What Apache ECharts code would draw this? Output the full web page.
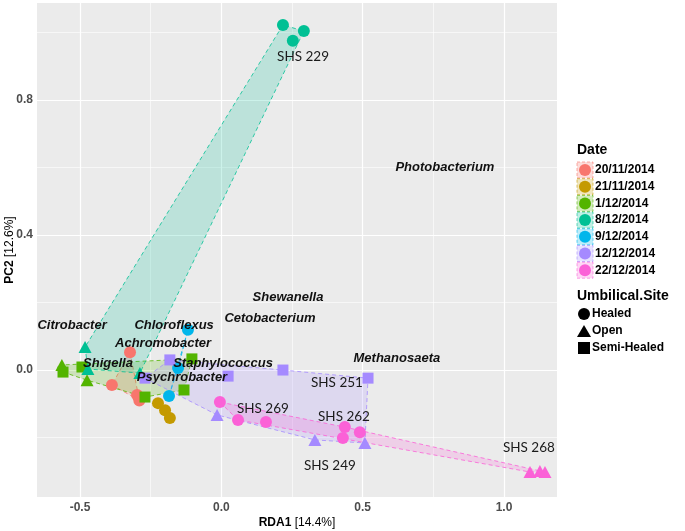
<!DOCTYPE html>
<html>
<head>
<meta charset="utf-8">
<script src="https://cdn.jsdelivr.net/npm/echarts@6.0.0/dist/echarts.min.js"></script>
<style>
  html, body { margin: 0; padding: 0; background: #fff; }
  #main { width: 685px; height: 531px; }
</style>
</head>
<body>
<div id="main"></div>
<script>
// 坐标轴刻度
var xTicks = [-0.5, 0.0, 0.5, 1.0];
var xMinor = [-0.25, 0.25, 0.75];
var yTicks = [0.0, 0.4, 0.8];
var yMinor = [-0.2, 0.2, 0.6, 1.0];

// 日期分组 + 颜色
var dates = ['20/11/2014', '21/11/2014', '1/12/2014', '8/12/2014', '9/12/2014', '12/12/2014', '22/12/2014'];
var colors = ['#F8766D', '#C49A00', '#53B400', '#00C094', '#00B6EB', '#A58AFF', '#FB61D7'];
var sites = ['Healed', 'Open', 'Semi-Healed'];

// 样本点 [RDA1, PC2, Umbilical.Site]
var pts_20_11 = [[-0.323, 0.053, 'Healed'], [-0.387, -0.044, 'Healed'], [-0.298, -0.074, 'Healed'], [-0.290, -0.090, 'Healed']];
var pts_21_11 = [[-0.224, -0.098, 'Healed'], [-0.199, -0.119, 'Healed'], [-0.182, -0.142, 'Healed']];
var pts_1_12 = [[-0.564, 0.015, 'Open'], [-0.560, -0.006, 'Semi-Healed'], [-0.493, 0.009, 'Semi-Healed'], [-0.475, -0.030, 'Open'],
                [-0.270, -0.080, 'Semi-Healed'], [-0.132, -0.059, 'Semi-Healed'], [-0.104, 0.033, 'Semi-Healed']];
var pts_8_12 = [[0.218, 1.022, 'Healed'], [0.292, 1.004, 'Healed'], [0.253, 0.975, 'Healed'],
                [-0.482, 0.068, 'Open'], [-0.472, 0.003, 'Open'], [-0.288, -0.009, 'Open']];
var pts_9_12 = [[-0.118, 0.119, 'Healed'], [-0.153, 0.006, 'Healed'], [-0.185, -0.077, 'Healed']];
var pts_12_12 = [[-0.182, 0.030, 'Semi-Healed'], [-0.270, -0.024, 'Semi-Healed'], [0.024, -0.018, 'Semi-Healed'], [0.218, 0.000, 'Semi-Healed'],
                 [0.519, -0.024, 'Semi-Healed'], [-0.015, -0.133, 'Open'], [0.331, -0.207, 'Open'], [0.508, -0.216, 'Open']];
var pts_22_12 = [[-0.005, -0.095, 'Healed'], [0.059, -0.148, 'Healed'], [0.158, -0.154, 'Healed'], [0.437, -0.169, 'Healed'],
                 [0.430, -0.201, 'Healed'], [0.490, -0.184, 'Healed'], [1.092, -0.302, 'Open'], [1.127, -0.299, 'Open'], [1.145, -0.302, 'Open']];
var sampleSets = [pts_20_11, pts_21_11, pts_1_12, pts_8_12, pts_9_12, pts_12_12, pts_22_12];

// 物种标签
var species = ['Photobacterium', 'Shewanella', 'Cetobacterium', 'Citrobacter', 'Chloroflexus', 'Achromobacter',
               'Shigella', 'Staphylococcus', 'Psychrobacter', 'Methanosaeta'];
var speciesX = [0.791, 0.236, 0.172, -0.528, -0.167, -0.206, -0.401, 0.006, -0.139, 0.621];
var speciesY = [0.601, 0.216, 0.154, 0.133, 0.133, 0.080, 0.021, 0.021, -0.021, 0.033];

// 个体标签
var subjects = ['SHS 229', 'SHS 251', 'SHS 269', 'SHS 262', 'SHS 249', 'SHS 268'];
var subjectX = [0.289, 0.409, 0.147, 0.434, 0.384, 1.088];
var subjectY = [0.927, -0.036, -0.113, -0.139, -0.284, -0.231];

var shapeOf = { 'Healed': 'circle', 'Open': 'triangle', 'Semi-Healed': 'rect' };
var sizeOf = { 'Healed': 12, 'Open': [13, 12], 'Semi-Healed': 11 };

function hull(pts) {
  var p = pts.map(function (d) { return [d[0], d[1]]; }).sort(function (a, b) { return a[0] - b[0] || a[1] - b[1]; });
  function cross(o, a, b) { return (a[0] - o[0]) * (b[1] - o[1]) - (a[1] - o[1]) * (b[0] - o[0]); }
  var lo = [], up = [];
  p.forEach(function (q) { while (lo.length >= 2 && cross(lo[lo.length - 2], lo[lo.length - 1], q) <= 0) lo.pop(); lo.push(q); });
  p.slice().reverse().forEach(function (q) { while (up.length >= 2 && cross(up[up.length - 2], up[up.length - 1], q) <= 0) up.pop(); up.push(q); });
  lo.pop(); up.pop();
  return lo.concat(up);
}

function hexA(hex, a) {
  var r = parseInt(hex.slice(1, 3), 16), g = parseInt(hex.slice(3, 5), 16), b = parseInt(hex.slice(5, 7), 16);
  return 'rgba(' + r + ',' + g + ',' + b + ',' + a + ')';
}

var series = [];

// 网格线
var gridLines = [];
xMinor.forEach(function (v) { gridLines.push({ xAxis: v, lineStyle: { width: 0.6 } }); });
yMinor.forEach(function (v) { gridLines.push({ yAxis: v, lineStyle: { width: 0.6 } }); });
xTicks.forEach(function (v) { gridLines.push({ xAxis: v, lineStyle: { width: 1.2 } }); });
yTicks.forEach(function (v) { gridLines.push({ yAxis: v, lineStyle: { width: 1.2 } }); });
series.push({
  type: 'scatter', data: [], z: 1, silent: true,
  markLine: { z: 1, silent: true, symbol: 'none', animation: false, label: { show: false },
    lineStyle: { color: '#ffffff', type: 'solid' }, data: gridLines }
});

// 凸包
sampleSets.forEach(function (pts, i) {
  var h = hull(pts);
  series.push({
    type: 'custom', z: 2, silent: true,
    data: [[pts[0][0], pts[0][1]]],
    renderItem: function (params, api) {
      return {
        type: 'polygon',
        shape: { points: h.map(function (q) { return api.coord(q); }) },
        style: { fill: hexA(colors[i], 0.2), stroke: colors[i], lineWidth: 0.8, lineDash: [4, 3] }
      };
    }
  });
});

// 样本点
sampleSets.forEach(function (pts, i) {
  series.push({
    type: 'scatter', name: dates[i], z: 3,
    data: pts.map(function (d) { return { value: [d[0], d[1]], symbol: shapeOf[d[2]], symbolSize: sizeOf[d[2]] }; }),
    itemStyle: { color: colors[i], opacity: 1 }
  });
});

// 物种文字
series.push({
  type: 'scatter', z: 4, silent: true, symbolSize: 0, itemStyle: { opacity: 1 },
  data: species.map(function (s, i) { return { name: s, value: [speciesX[i], speciesY[i]] }; }),
  label: { show: true, position: 'inside', formatter: '{b}', color: '#111', opacity: 1, textBorderWidth: 0,
    fontFamily: 'Liberation Sans', fontStyle: 'italic', fontWeight: 'bold', fontSize: 13 }
});
series.push({
  type: 'scatter', z: 4, silent: true, symbolSize: 0, itemStyle: { opacity: 1 },
  data: subjects.map(function (s, i) { return { name: s, value: [subjectX[i], subjectY[i]] }; }),
  label: { show: true, position: 'inside', formatter: '{b}', color: '#1a1a1a', opacity: 1, textBorderWidth: 0,
    fontFamily: 'Lato', fontSize: 13.5 }
});

// 图例
var graphic = [];
var lx = 577, ly = 151;
graphic.push({ type: 'text', left: lx, top: ly - 8, style: { text: 'Date', font: 'bold 14px "Liberation Sans"', fill: '#000' } });
dates.forEach(function (d, i) {
  var cy = 170 + i * 16.7;
  graphic.push({ type: 'rect', shape: { x: lx, y: cy - 8, width: 16, height: 16 },
    style: { fill: hexA(colors[i], 0.25), stroke: colors[i], lineWidth: 0.6, lineDash: [3, 2] } });
  graphic.push({ type: 'circle', shape: { cx: lx + 8, cy: cy, r: 6 }, style: { fill: colors[i] } });
  graphic.push({ type: 'text', x: lx + 18, y: cy, style: { text: d, font: 'bold 12px "Liberation Sans"', fill: '#000', verticalAlign: 'middle' } });
});
graphic.push({ type: 'text', left: lx, top: 289, style: { text: 'Umbilical.Site', font: 'bold 14px "Liberation Sans"', fill: '#000' } });
sites.forEach(function (s, i) {
  var cy = 314 + i * 17;
  var cx = lx + 7;
  if (s === 'Healed') graphic.push({ type: 'circle', shape: { cx: cx, cy: cy, r: 6 }, style: { fill: '#000' } });
  if (s === 'Open') graphic.push({ type: 'polygon', shape: { points: [[cx, cy - 6], [cx + 7, cy + 6], [cx - 7, cy + 6]] }, style: { fill: '#000' } });
  if (s === 'Semi-Healed') graphic.push({ type: 'rect', shape: { x: cx - 6, y: cy - 6, width: 12, height: 12 }, style: { fill: '#000' } });
  graphic.push({ type: 'text', x: lx + 15, y: cy, style: { text: s, font: 'bold 12px "Liberation Sans"', fill: '#000', verticalAlign: 'middle' } });
});

var myChart = echarts.init(document.getElementById('main'));
var option = {
  animation: false,
  backgroundColor: '#ffffff',
  grid: { left: 37, top: 3, width: 520, height: 494, show: true, backgroundColor: '#EBEBEB', borderWidth: 0,
    containLabel: false, outerBoundsMode: 'none' },
  xAxis: {
    type: 'value', min: -0.652, max: 1.1875,
    name: '{b|RDA1} [14.4%]', nameLocation: 'middle', nameGap: 20, nameMoveOverlap: false,
    nameTextStyle: { color: '#000', fontSize: 12, fontFamily: 'Liberation Sans', rich: { b: { fontWeight: 'bold', fontSize: 12, fontFamily: 'Liberation Sans' } } },
    axisLine: { show: false },
    axisTick: { show: true, length: 3, lineStyle: { color: '#333' }, customValues: xTicks },
    axisLabel: { customValues: xTicks, color: '#4d4d4d', fontSize: 12, fontWeight: 'bold', fontFamily: 'Liberation Sans', margin: 5,
      formatter: function (v) { return v.toFixed(1); } },
    splitLine: { show: false }
  },
  yAxis: {
    type: 'value', min: -0.376, max: 1.087,
    name: '{b|PC2} [12.6%]', nameLocation: 'middle', nameGap: 21, nameRotate: 90, nameMoveOverlap: false,
    nameTextStyle: { color: '#000', fontSize: 12, fontFamily: 'Liberation Sans', rich: { b: { fontWeight: 'bold', fontSize: 12, fontFamily: 'Liberation Sans' } } },
    axisLine: { show: false },
    axisTick: { show: true, length: 3, lineStyle: { color: '#333' }, customValues: yTicks },
    axisLabel: { customValues: yTicks, color: '#4d4d4d', fontSize: 12, fontWeight: 'bold', fontFamily: 'Liberation Sans', margin: 4,
      formatter: function (v) { return v.toFixed(1); } },
    splitLine: { show: false }
  },
  graphic: graphic,
  series: series
};
myChart.setOption(option);
</script>
</body>
</html>
